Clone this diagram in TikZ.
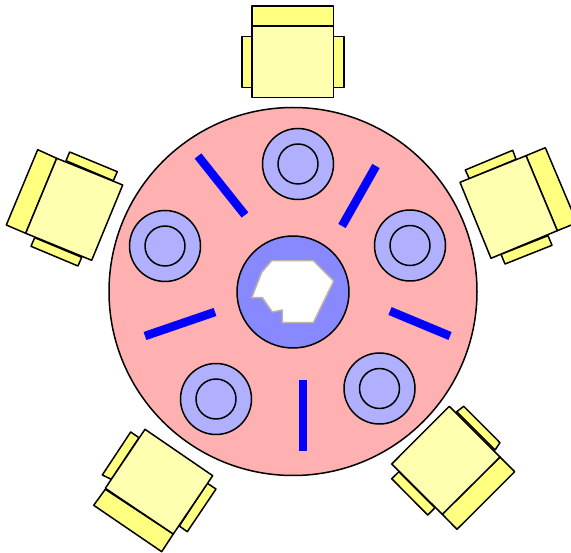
\documentclass[tikz,border=0pt]{standalone}
\definecolor{tablepink}{HTML}{FFB0B0}
\definecolor{hubblue}{HTML}{8888FF}
\definecolor{plateblue}{HTML}{B0B0FF}
\definecolor{seatyellow}{HTML}{FFFFB0}
\definecolor{backyellow}{HTML}{FFFF80}
\definecolor{barblue}{HTML}{0000FF}
\definecolor{rimtan}{HTML}{BDB4A4}
\tikzset{
  outline/.style={draw=black,line width=1.5pt,line join=round},
  seatpart/.style={outline,fill=seatyellow},
  backpart/.style={outline,fill=backyellow},
  tabletop/.style={outline,fill=tablepink},
  hubdisc/.style={outline,fill=hubblue},
  platedisc/.style={outline,fill=plateblue},
  barline/.style={draw=barblue,line width=8.5pt},
  serving/.style={draw=rimtan,line width=1.5pt,fill=white,line join=round}
}
\newcommand{\plate}[2]{%
  \draw[platedisc] (#1,#2) circle[radius=35.5];
  \draw[outline] (#1,#2) circle[radius=20];}
\begin{document}
\begin{tikzpicture}[x=1pt,y=-1pt]
\useasboundingbox (0,0) rectangle (571,553);
\begin{scope}
\clip (0,0) rectangle (571,553);
% top chair
\draw[backpart] (242,36.5)--(252,36.5)--(252,87.5)--(242,87.5)--cycle;
\draw[backpart] (333.5,36.5)--(344,36.5)--(344,87.5)--(333.5,87.5)--cycle;
\draw[backpart] (252,6)--(333.5,6)--(333.5,26)--(252,26)--cycle;
\draw[seatpart] (252,26)--(333.5,26)--(333.5,97.5)--(252,97.5)--cycle;
% right chair
\draw[backpart] (465.3,170)--(512.7,150.3)--(516,159.3)--(469.3,178.7)--cycle;
\draw[backpart] (501,254.3)--(505,264)--(552,245.3)--(548,235.7)--cycle;
\draw[backpart] (526,155.7)--(545.3,147.7)--(577,222.7)--(557.3,230.7)--cycle;
\draw[seatpart] (460,182.3)--(526,155.7)--(557.3,230.7)--(491,258.3)--cycle;
% lower right chair
\draw[backpart] (463.7,406.3)--(500,442.7)--(495,450)--(456.7,411.7)--cycle;
\draw[backpart] (391.7,478.7)--(427.7,515)--(435,507.7)--(399,471.7)--cycle;
\draw[backpart] (500,457)--(514.7,471.7)--(457,529.3)--(442.3,514.3)--cycle;
\draw[seatpart] (449.3,406.3)--(500,457)--(442.3,514.3)--(391.7,464)--cycle;
% lower left chair
\draw[backpart] (130.7,432)--(139,437.7)--(111.3,479.3)--(102.3,475)--cycle;
\draw[backpart] (207.3,483.3)--(216,489)--(187.3,531.7)--(179.3,526)--cycle;
\draw[backpart] (105.3,489.3)--(173.3,534)--(161.7,551.7)--(93.7,505.3)--cycle;
\draw[seatpart] (145,429.3)--(212.7,475.7)--(173.3,534)--(105.3,488.3)--cycle;
% left chair
\draw[backpart] (69.7,152)--(117.3,171.7)--(113.3,180.7)--(66,160.7)--cycle;
\draw[backpart] (34.7,237.7)--(31,246.3)--(78,266)--(81.7,257.3)--cycle;
\draw[backpart] (37.7,149.7)--(56.7,158.3)--(25.7,233.3)--(6.3,225)--cycle;
\draw[seatpart] (56.7,158.3)--(122.7,185)--(91.7,260.3)--(25.7,233.3)--cycle;
\end{scope}
% table
\draw[tabletop] (293,291.5) circle[radius=184];
\draw[hubdisc] (293,292) circle[radius=56];
\draw[serving] (271.7,260.7)--(313.3,260.7)--(333.7,281)--(313.3,322.7)--(282.3,322.7)--(282.3,310)--(272.3,312)--(262.3,297.7)--(251.7,297.7)--(261.7,272.3)--cycle;
\plate{298}{164}
\plate{410}{245.5}
\plate{379.5}{388.5}
\plate{216}{399}
\plate{165}{246}
\draw[barline] (198,156)--(245,215);
\draw[barline] (376,166)--(342,226);
\draw[barline] (390,311)--(450,336);
\draw[barline] (303,380)--(303,451);
\draw[barline] (215,312)--(145,336);
\end{tikzpicture}
\end{document}
